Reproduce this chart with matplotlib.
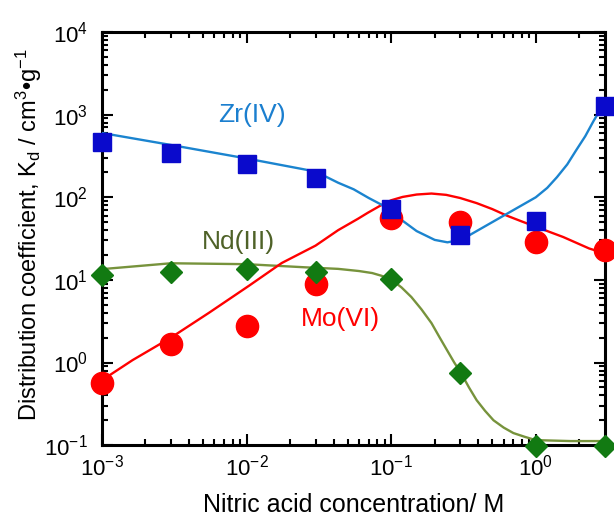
import matplotlib
matplotlib.use("Agg")
import matplotlib.pyplot as plt
from matplotlib.ticker import LogLocator, NullFormatter

plt.rcParams['font.family'] = ['Liberation Sans', 'DejaVu Sans']
plt.rcParams['mathtext.fontset'] = 'custom'
plt.rcParams['mathtext.rm'] = 'Liberation Sans'
plt.rcParams['mathtext.it'] = 'Liberation Sans:italic'

# measured points
hno3 = [0.001, 0.003, 0.01, 0.03, 0.1, 0.3, 1.0, 3.0]
kd_zr = [466, 343, 251, 170, 72, 35, 51, 1260]
kd_mo = [0.56, 1.66, 2.75, 8.8, 56, 50, 29, 23]
kd_nd = [11.5, 12.5, 13.5, 12.5, 10.2, 0.74, 0.097, 0.097]

# fitted curves
zr_fit_x = [0.001, 0.003, 0.01, 0.03, 0.043, 0.055, 0.07, 0.085, 0.1, 0.12, 0.15,
            0.2, 0.245, 0.3, 0.34, 0.46, 0.7, 1.0, 1.2, 1.4, 1.65, 1.9, 2.2, 2.5, 2.75, 3.0]
zr_fit_y = [600, 430, 295, 205, 150, 125, 98, 82, 68, 52, 39,
            30.5, 28.5, 30.5, 34, 46, 70, 100, 130, 175, 250, 370, 550, 830, 1100, 1400]

mo_fit_x = [0.001, 0.00163, 0.003, 0.0055, 0.0104, 0.0175, 0.03, 0.043, 0.059,
            0.069, 0.085, 0.1, 0.12, 0.15, 0.19, 0.24, 0.3, 0.39, 0.5, 0.63, 0.8,
            1.0, 1.55, 2.34, 3.0]
mo_fit_y = [0.61, 1.07, 2.0, 4.0, 8.5, 16, 26, 40, 55,
            65, 80, 92, 101, 108, 111, 107, 98, 85, 72, 60, 51,
            44, 33, 24, 21]

nd_fit_x = [0.001, 0.003, 0.01, 0.0255, 0.043, 0.06, 0.074, 0.086, 0.101, 0.118,
            0.138, 0.162, 0.19, 0.215, 0.244, 0.273, 0.305, 0.345, 0.39, 0.446,
            0.51, 0.6, 0.7, 0.84, 1.0, 1.74, 3.0]
nd_fit_y = [13.5, 15.9, 15.5, 14.2, 13.6, 12.8, 12.1, 11.2, 10.0, 8.1,
            6.2, 4.4, 3.0, 2.05, 1.4, 1.0, 0.74, 0.5, 0.35, 0.26,
            0.2, 0.163, 0.14, 0.126, 0.115, 0.112, 0.112]

fig = plt.figure(figsize=(6.14, 5.17), dpi=100)
ax = fig.add_axes([0.166, 0.139, 0.819, 0.799])

ax.plot(nd_fit_x, nd_fit_y, color='#77933c', lw=1.7, zorder=2)
ax.plot(mo_fit_x, mo_fit_y, color='#ff0000', lw=1.7, zorder=2)
ax.plot(zr_fit_x, zr_fit_y, color='#1b84cf', lw=1.7, zorder=3)

ax.plot(hno3, kd_mo, 'o', color='#ff0000', ms=16, mec='#ff0000', zorder=4, clip_on=False)
ax.plot(hno3, kd_nd, 'D', color='#127a12', ms=11, mec='#127a12', zorder=5, clip_on=False)
ax.plot(hno3, kd_zr, 's', color='#0a0acc', ms=12.5, mec='#0a0acc', zorder=6, clip_on=False)

ax.set_xscale('log')
ax.set_yscale('log')
ax.set_xlim(1e-3, 3)
ax.set_ylim(1e-1, 1e4)

ax.yaxis.set_major_locator(LogLocator(base=10, numticks=10))
ax.yaxis.set_minor_locator(LogLocator(base=10, subs=range(2, 10), numticks=10))
ax.yaxis.set_minor_formatter(NullFormatter())
ax.xaxis.set_minor_formatter(NullFormatter())

for s in ax.spines.values():
    s.set_linewidth(2.2)
ax.tick_params(which='both', direction='in', top=True, right=True, width=1.5)
ax.tick_params(which='major', length=8, labelsize=16, pad=7)
ax.tick_params(which='minor', length=4.5)
ax.tick_params(axis='y', which='major', pad=10)

ax.set_xlabel('Nitric acid concentration/ M', fontsize=18)
ax.set_ylabel('Distribution coefficient, K$_{\\rm d}$ / cm$^{3}$\u2022g$^{-1}$', fontsize=17)
ax.xaxis.set_label_coords(0.5, -0.115)
ax.yaxis.set_label_coords(-0.115, 0.51)

# series labels
ax.annotate('Zr(IV)', xy=(252, 517 - 115), xycoords='figure pixels',
            ha='center', va='center', fontsize=19, color='#1b7fcf')
ax.annotate('Nd(III)', xy=(238, 517 - 242), xycoords='figure pixels',
            ha='center', va='center', fontsize=19, color='#4f6228')
ax.annotate('Mo(VI)', xy=(340, 517 - 319), xycoords='figure pixels',
            ha='center', va='center', fontsize=19, color='#ff0000')

fig.savefig('out.png', dpi=100)
